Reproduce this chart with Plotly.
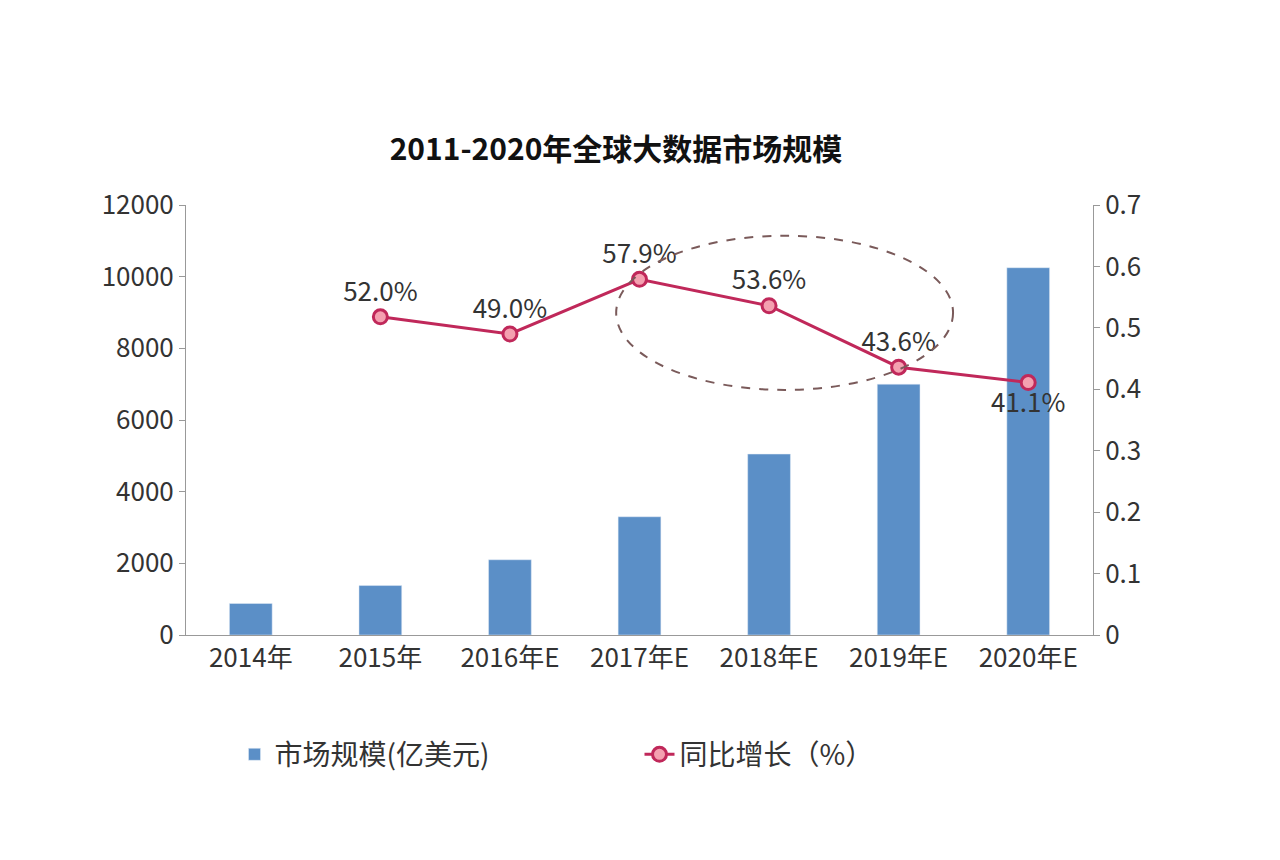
import plotly.graph_objects as go

categories = ["2014年", "2015年", "2016年E", "2017年E", "2018年E", "2019年E", "2020年E"]
market_size = [880, 1380, 2100, 3300, 5050, 7000, 10250]
growth_cats = categories[1:]
growth = [0.518, 0.49, 0.579, 0.536, 0.436, 0.411]
growth_labels = ["52.0%", "49.0%", "57.9%", "53.6%", "43.6%", "41.1%"]
label_pos = ["top center", "top center", "top center", "top center", "top center", "bottom center"]

font = "Noto Sans CJK SC"
fig = go.Figure()
fig.add_trace(go.Bar(x=categories, y=market_size, name="市场规模(亿美元)",
                     marker_color="#5b8fc7", width=0.33))
fig.add_trace(go.Scatter(x=growth_cats, y=growth, yaxis="y2", name="同比增长（%）",
                         mode="lines+markers+text", text=growth_labels, textposition=label_pos,
                         textfont=dict(size=26, color="#333"),
                         line=dict(color="#c0285a", width=3),
                         marker=dict(size=14, color="#f4a0b0", line=dict(color="#c0285a", width=3))))
fig.add_shape(type="circle", xref="x", yref="y2", x0=2.82, x1=5.42, y0=0.399, y1=0.65,
              line=dict(color="#7a5a5a", width=2, dash="dash"))
fig.update_layout(
    width=1280, height=860, plot_bgcolor="white", paper_bgcolor="white",
    margin=dict(l=178, r=195, t=197, b=233),
    font=dict(family=font, size=26, color="#333"),
    title=dict(text="<b>2011-2020年全球大数据市场规模</b>", x=0.475, xanchor="center",
               y=0.835, yanchor="middle", font=dict(size=30, color="#111")),
    xaxis=dict(showline=True, linecolor="#999", ticks="", tickfont=dict(size=26)),
    yaxis=dict(range=[0, 12000], dtick=2000, tickformat="d", showgrid=False, showline=True,
               linecolor="#999", ticks="outside", ticklen=6, tickcolor="#999"),
    yaxis2=dict(range=[0, 0.7], dtick=0.1, overlaying="y", side="right", showgrid=False,
                showline=True, linecolor="#999", ticks="outside", ticklen=6, tickcolor="#999"),
    legend=dict(orientation="h", x=0.5, xanchor="center", y=-0.22, yanchor="top",
                font=dict(size=28), entrywidth=360),
    showlegend=True,
)
fig.write_html("out.html")
